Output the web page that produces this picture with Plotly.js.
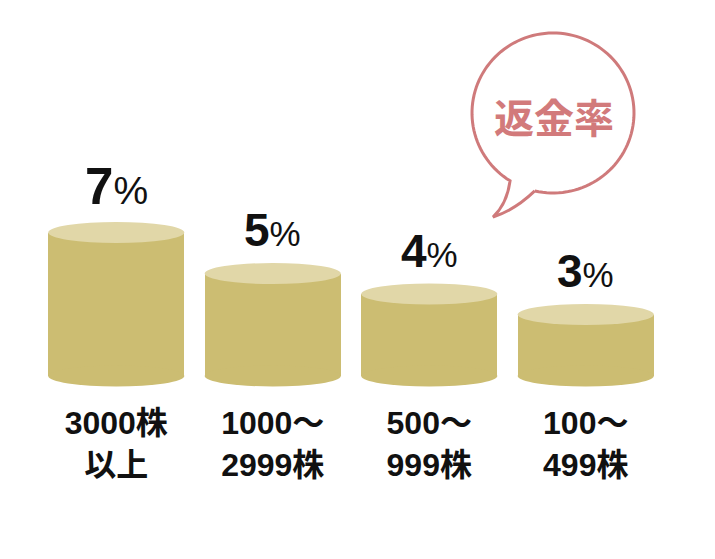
<!DOCTYPE html>
<html>
<head>
<meta charset="utf-8">
<script src="https://cdn.plot.ly/plotly-3.0.1.min.js"></script>
<style>html,body{margin:0;padding:0;background:#fff;}#chart{width:715px;height:559px;}</style>
</head>
<body>
<div id="chart"></div>
<script>
// ---- data ----
const categories = ["3000株<br>以上", "1000～<br>2999株", "500～<br>999株", "100～<br>499株"];
const rates = [7, 5, 4, 3];
const rateUnit = "%";
const bubbleLabel = "返金率";

// ---- style / layout constants ----
const W = 715, H = 559;
const M = {l: 38, r: 51, t: 20, b: 167};
const plotW = W - M.l - M.r, plotH = H - M.t - M.b;
const yRange = [-0.78, 17.37];
const barWidth = 0.87;
const ellipseRY = 0.512;      // half-height of cylinder ellipses (axis units)
const bodyColor = "rgb(204,189,114)";
const topColor = "rgb(225,215,168)";
const pinkColor = "#cf7a7b";
const digitSizes = [51, 46, 46, 46];
const FONT = "Liberation Sans, Arial, 'Noto Sans CJK JP', sans-serif";

const idx = rates.map((_, i) => i);

const trace = {
  type: "bar",
  x: categories,
  y: rates,
  base: 0,
  width: barWidth,
  marker: {color: bodyColor, line: {width: 0}},
  hoverinfo: "skip",
  showlegend: false
};

const shapes = [];
idx.forEach(i => {
  shapes.push({type: "circle", xref: "x", yref: "y", layer: "above",
    x0: i - barWidth / 2, x1: i + barWidth / 2, y0: -ellipseRY, y1: ellipseRY,
    fillcolor: bodyColor, line: {width: 0}});
  shapes.push({type: "circle", xref: "x", yref: "y", layer: "above",
    x0: i - barWidth / 2, x1: i + barWidth / 2, y0: rates[i] - ellipseRY, y1: rates[i] + ellipseRY,
    fillcolor: topColor, line: {width: 0}});
});

// speech bubble (decoration, pixel geometry -> paper coords)
const px = v => (v - M.l) / plotW;
const py = v => (M.t + plotH - v) / plotH;
const cx = 553, cy = 113, rx = 81, ry = 80;
let pts = [];
const a0 = 103, a1 = 122 - 360;
for (let k = 0; k <= 120; k++) {
  const a = (a0 + (a1 - a0) * k / 120) * Math.PI / 180;
  pts.push([cx + rx * Math.cos(a), cy + ry * Math.sin(a)]);
}
let path = "M " + pts.map(p => px(p[0]).toFixed(5) + "," + py(p[1]).toFixed(5)).join(" L ");
const first = pts[0];
path += ` Q ${px(507).toFixed(5)},${py(204).toFixed(5)} ${px(493).toFixed(5)},${py(217).toFixed(5)}`;
path += ` Q ${px(515).toFixed(5)},${py(210).toFixed(5)} ${px(first[0]).toFixed(5)},${py(first[1]).toFixed(5)}`;
shapes.push({type: "path", xref: "paper", yref: "paper", path: path,
  line: {color: pinkColor, width: 3}, fillcolor: "rgba(0,0,0,0)", layer: "above"});

const annotations = idx.map(i => ({
  x: i, y: rates[i] + ellipseRY, xref: "x", yref: "y",
  xanchor: "center", yanchor: "bottom", yshift: 5, showarrow: false,
  text: `<b>${rates[i]}</b><span style="font-size:${Math.round(digitSizes[i] * 0.76)}px">${rateUnit}</span>`,
  font: {family: FONT, size: digitSizes[i], color: "#111"}
}));
annotations.push({
  x: px(554), y: py(116), xref: "paper", yref: "paper",
  xanchor: "center", yanchor: "middle", showarrow: false,
  text: bubbleLabel,
  font: {family: "'Noto Sans CJK JP', sans-serif", size: 40, color: "#d27a7b", weight: 700}
});

const layout = {
  width: W, height: H,
  margin: M,
  paper_bgcolor: "#fff", plot_bgcolor: "#fff",
  showlegend: false,
  bargap: 0,
  xaxis: {type: "category", range: [-0.5, 3.5], showgrid: false, zeroline: false, showline: false,
    ticks: "", fixedrange: true, ticklabelstandoff: 9,
    tickfont: {family: FONT, size: 32, color: "#111", weight: 700}},
  yaxis: {range: yRange, visible: false, showgrid: false, zeroline: false, fixedrange: true},
  shapes: shapes,
  annotations: annotations
};

Plotly.newPlot("chart", [trace], layout, {displayModeBar: false, staticPlot: true});
</script>
</body>
</html>
